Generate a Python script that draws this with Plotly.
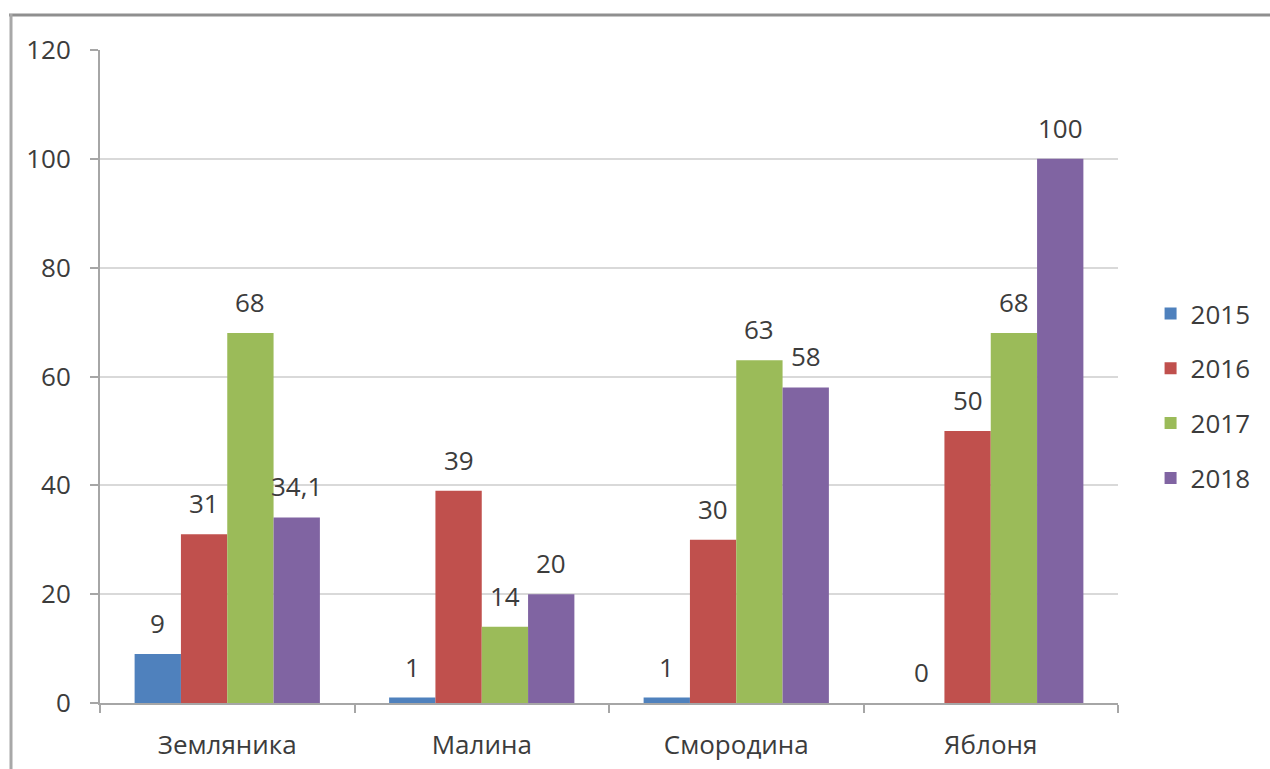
import plotly.graph_objects as go

categories = ["Земляника", "Малина", "Смородина", "Яблоня"]
years = ["2015", "2016", "2017", "2018"]
values_2015 = [9, 1, 1, 0]
values_2016 = [31, 39, 30, 50]
values_2017 = [68, 14, 63, 68]
values_2018 = [34.1, 20, 58, 100]
series = [values_2015, values_2016, values_2017, values_2018]
colors = ["#4F81BD", "#C0504D", "#9BBB59", "#8064A2"]
y_ticks = [0, 20, 40, 60, 80, 100, 120]

FONT = "Open Sans"
TXT = "#3c3c3c"
FS = 26

W, H = 1270, 769
L, R, T, B = 100, 152, 50, 66
pw = W - L - R
ph = H - T - B

fig = go.Figure()
for i, (yr, vals) in enumerate(zip(years, series)):
    fig.add_trace(go.Bar(
        x=categories, y=vals, name=yr,
        marker=dict(color=colors[i], line=dict(width=0)),
        legendgroup=yr,
    ))

bargap = 0.272
bw = (1 - bargap) / 4
annotations = []
for k, vals in enumerate(series):
    for ci, v in enumerate(vals):
        label = (f"{v}".replace(".", ",")) if isinstance(v, float) else str(v)
        annotations.append(dict(
            x=ci + (k - 1.5) * bw, y=v, xref="x", yref="y",
            text=label, showarrow=False, yshift=31,
            font=dict(family=FONT, size=FS, color=TXT),
            xanchor="center", yanchor="middle",
        ))

def px_x(p):
    return (p - L) / pw

def px_y(p):
    return (H - B - p) / ph

shapes = [
    dict(type="line", xref="paper", yref="paper",
         x0=px_x(9), x1=px_x(1275), y0=px_y(15), y1=px_y(15),
         line=dict(color="#8f8f8f", width=3)),
    dict(type="line", xref="paper", yref="paper",
         x0=px_x(11), x1=px_x(11), y0=px_y(14), y1=px_y(775),
         line=dict(color="#a8a8a8", width=3)),
]

fig.update_layout(
    width=W, height=H,
    margin=dict(l=L, r=R, t=T, b=B, autoexpand=False),
    paper_bgcolor="white", plot_bgcolor="white",
    barmode="group", bargap=bargap, bargroupgap=0,
    font=dict(family=FONT, size=FS, color=TXT),
    showlegend=True,
    legend=dict(
        x=1.032, xanchor="left", y=0.47, yanchor="middle",
        traceorder="grouped", tracegroupgap=18,
        font=dict(family=FONT, size=FS, color=TXT),
        bgcolor="rgba(0,0,0,0)", itemwidth=30,
    ),
    annotations=annotations,
    shapes=shapes,
    xaxis=dict(
        type="category", showgrid=False, automargin=False,
        showline=True, linecolor="#a6a6a6", linewidth=2,
        ticks="outside", tickson="boundaries", ticklen=8,
        tickcolor="#a6a6a6", tickwidth=2,
        ticklabelstandoff=18,
        tickfont=dict(family=FONT, size=FS, color=TXT),
    ),
    yaxis=dict(
        range=[0, 120], tickvals=y_ticks, automargin=False,
        showgrid=True, gridcolor="#d9d9d9", gridwidth=2,
        showline=True, linecolor="#a6a6a6", linewidth=2,
        ticks="outside", ticklen=8, tickcolor="#a6a6a6", tickwidth=2,
        ticklabelstandoff=14, zeroline=False,
        tickfont=dict(family=FONT, size=FS, color=TXT),
    ),
)

fig.write_html("out.html")
